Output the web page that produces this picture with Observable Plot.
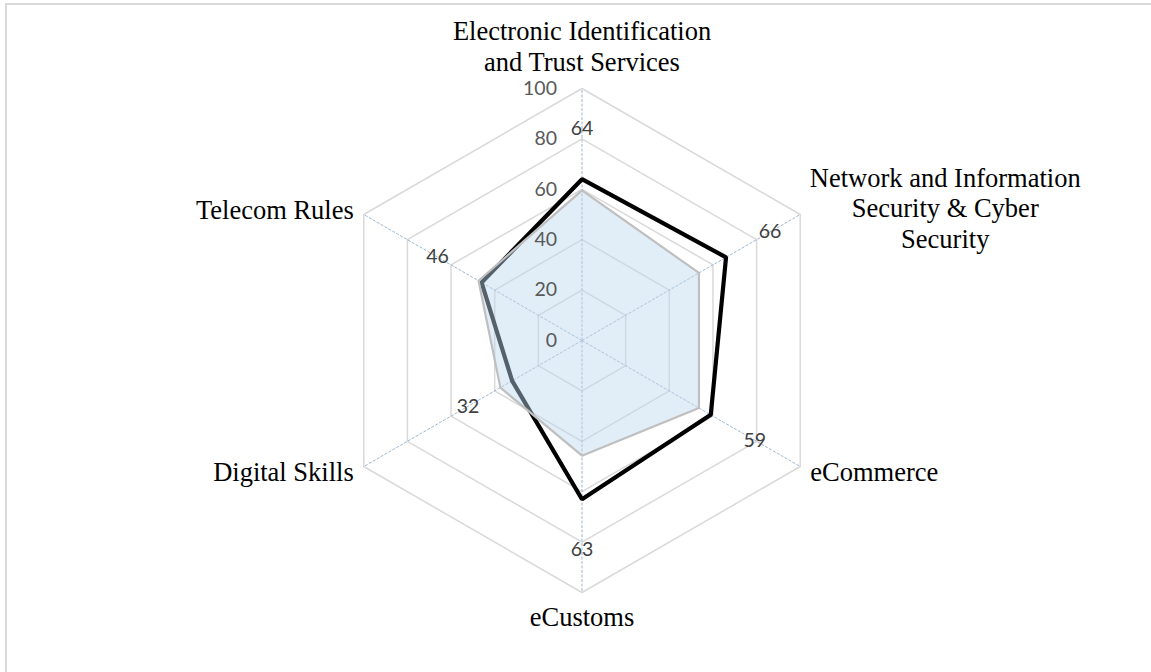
<!DOCTYPE html>
<html>
<head>
<meta charset="utf-8">
<script src="https://cdn.jsdelivr.net/npm/d3@7"></script>
<script src="https://cdn.jsdelivr.net/npm/@observablehq/plot@0.6"></script>
<style>
  html, body { margin: 0; padding: 0; background: #fff; overflow: hidden; }
  #frame { position: absolute; left: 5px; top: 3px; width: 1200px; height: 720px;
           border-left: 2px solid #d9d9d9; border-top: 2px solid #d9d9d9; pointer-events: none; z-index: 2; }
  #chart { position: absolute; left: 0; top: 0; }
</style>
</head>
<body>
<div id="frame"></div>
<div id="chart"></div>
<script>
// ---- data ----
const categories = [
  "Electronic Identification\nand Trust Services",
  "Network and Information\nSecurity & Cyber\nSecurity",
  "eCommerce",
  "eCustoms",
  "Digital Skills",
  "Telecom Rules"
];
const countryScores = [64, 66, 59, 63, 32, 46];
const averageScores = [59.6, 53.6, 53.6, 45.7, 37.4, 47.4];
const gridLevels = [20, 40, 60, 80, 100];
const tickLabels = [0, 20, 40, 60, 80, 100];
const maxValue = 100;

// ---- geometry helpers ----
const n = categories.length;
const angle = i => i * 2 * Math.PI / n;
const pt = (i, r) => ({x: r * Math.sin(angle(i)), y: r * Math.cos(angle(i))});

const W = 1151, H = 672;
const cx = 581.5, cy = 340, k = 2.52; // px per unit
const xDomain = [-cx / k, (W - cx) / k];
const yDomain = [(cy - H) / k, cy / k];

const rings = gridLevels.flatMap(level => categories.map((c, i) => ({level, ...pt(i, level)})));
const spokes = categories.map((c, i) => {
  const p = pt(i, maxValue);
  return {x1: 0, y1: 0, x2: p.x, y2: p.y};
});
const countryPts = countryScores.map((v, i) => ({value: v, ...pt(i, v)}));
const averagePts = averageScores.map((v, i) => ({value: v, ...pt(i, v)}));
const valueLabels = countryScores.map((v, i) => ({label: String(v), ...pt(i, v + 20.2)}));
const ticks = tickLabels.map(t => ({label: String(t), ...pt(0, t)}));

const labelStyle = [
  {dx: 0, dy: -18, textAnchor: "middle"},
  {dx: 145, dy: 33, textAnchor: "middle"},
  {dx: 10, dy: 14, textAnchor: "start"},
  {dx: 0, dy: 33, textAnchor: "middle"},
  {dx: -10, dy: 14, textAnchor: "end"},
  {dx: -10, dy: 4, textAnchor: "end"}
];

const catMarks = categories.map((c, i) => {
  const p = pt(i, maxValue);
  return Plot.text([{label: c, ...p}], {
    x: "x", y: "y", text: "label",
    fontFamily: "Liberation Serif", fontSize: 26.5, lineHeight: 1.15,
    lineAnchor: "bottom", fill: "#000", ...labelStyle[i]
  });
});

const chart = Plot.plot({
  width: W, height: H, margin: 0,
  style: {background: "transparent", overflow: "visible"},
  x: {domain: xDomain, range: [0, W], axis: null},
  y: {domain: yDomain, range: [H, 0], axis: null},
  marks: [
    Plot.line(rings, {x: "x", y: "y", z: "level", curve: "linear-closed", stroke: "#d9d9d9", strokeWidth: 1.5}),
    Plot.link(spokes, {x1: "x1", y1: "y1", x2: "x2", y2: "y2", stroke: "#9db7cf", strokeWidth: 1, strokeDasharray: "3,1.5"}),
    Plot.line(countryPts, {x: "x", y: "y", curve: "linear-closed", stroke: "#000", strokeWidth: 4.2, strokeLinejoin: "miter"}),
    Plot.line(averagePts, {x: "x", y: "y", curve: "linear-closed", fill: "#bdd7ee", fillOpacity: 0.45, stroke: "#bfbfbf", strokeWidth: 2.2, strokeLinejoin: "miter"}),
    Plot.text(ticks, {x: "x", y: "y", text: "label", dx: -25, textAnchor: "end", lineAnchor: "middle", fontFamily: "Lato", fontSize: 19.5, fill: "#595959"}),
    Plot.text(valueLabels, {x: "x", y: "y", text: "label", textAnchor: "middle", lineAnchor: "middle", fontFamily: "Lato", fontSize: 19.5, fill: "#404040"}),
    ...catMarks
  ]
});
document.getElementById("chart").appendChild(chart);
</script>
</body>
</html>
